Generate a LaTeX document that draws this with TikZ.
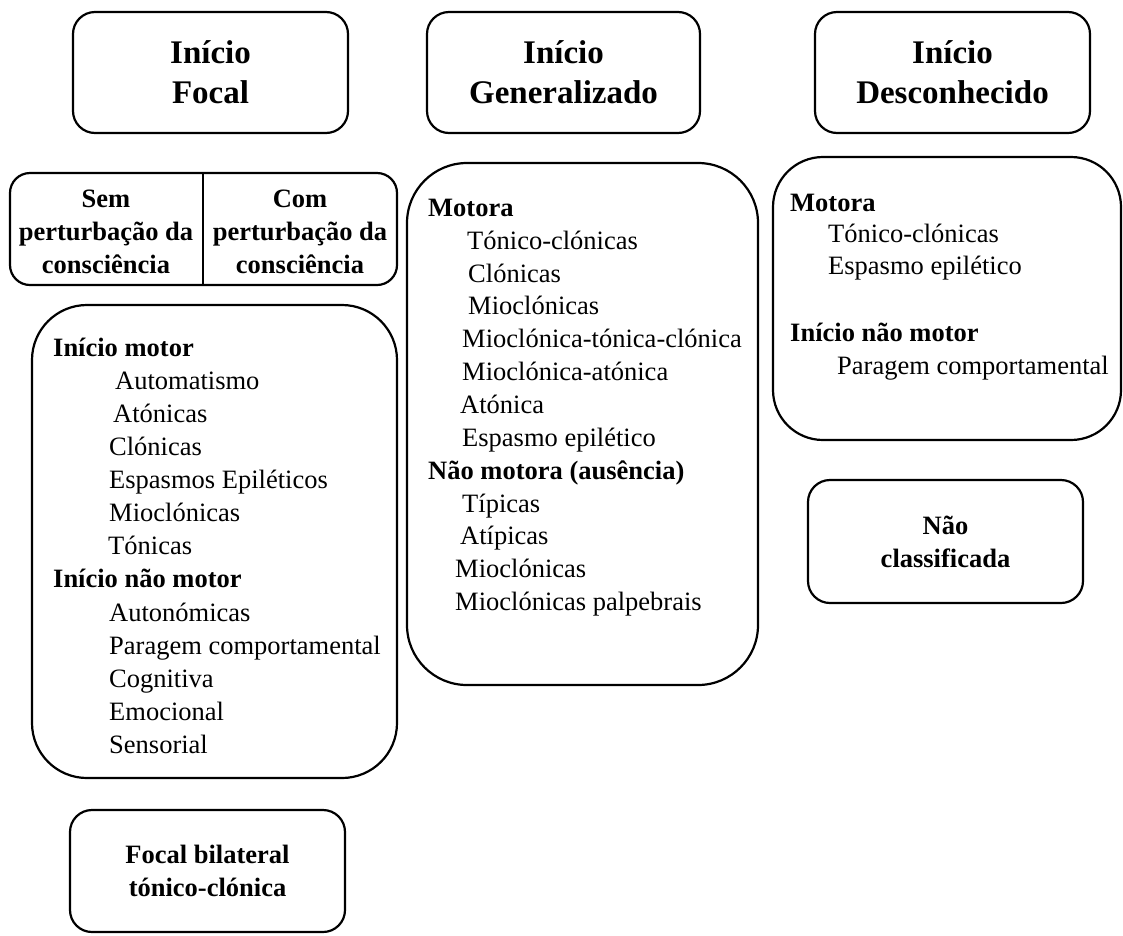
\documentclass[tikz,border=0pt]{standalone}
\usepackage{fontspec}
\setmainfont{Liberation Serif}
\begin{document}
\begin{tikzpicture}[x=1pt,y=-1pt,
  box/.style={draw, line width=2.2pt, rounded corners=22pt, inner sep=0pt},
  ttl/.style={font=\fontsize{33}{40}\selectfont\bfseries, align=center},
  bc/.style={font=\fontsize{26.5}{33}\selectfont\bfseries, align=center, inner sep=0pt},
  hd/.style={font=\fontsize{26.5}{33}\selectfont\bfseries, anchor=west, inner sep=0pt, text height=18pt, text depth=6pt},
  it/.style={font=\fontsize{26.5}{33}\selectfont, anchor=west, inner sep=0pt, text height=18pt, text depth=6pt}]
\useasboundingbox (0,0) rectangle (1123,935);

% title boxes
\node[box, minimum width=275pt, minimum height=121pt, ttl] (tf) at (210.5,72.5) {Início\\Focal};
\node[box, minimum width=273pt, minimum height=121pt, ttl] (tg) at (563.5,72.5) {Início\\Generalizado};
\node[box, minimum width=275pt, minimum height=121pt, ttl] (td) at (952.5,72.5) {Início\\Desconhecido};

% Sem / Com box
\node[box, rounded corners=20pt, minimum width=387pt, minimum height=112pt] (sc) at (203.5,229) {};
\coordinate (dtop) at (203,173);
\coordinate (dbot) at (203,285);
\draw[line width=1.6pt] (dtop) -- (dbot);
\node[bc] (sem) at (106,232) {\fontsize{26.5}{32}\selectfont Sem\\perturbação da\\consciência};
\node[bc] (com) at (300,232) {\fontsize{26.5}{32}\selectfont Com\\perturbação da\\consciência};

% Focal list box
\node[box, rounded corners=55pt, minimum width=365pt, minimum height=473pt] (fl) at (214.5,541.5) {};
\node[hd] (f1) at (53,350) {Início motor};
\node[it] (f2) at (115,383) {Automatismo};
\node[it] (f3) at (113,416) {Atónicas};
\node[it] (f4) at (109,449) {Clónicas};
\node[it] (f5) at (109,482.5) {Espasmos Epiléticos};
\node[it] (f6) at (109,515.5) {Mioclónicas};
\node[it] (f7) at (108,548.5) {Tónicas};
\node[hd] (f8) at (53,581.5) {Início não motor};
\node[it] (f9) at (109,615) {Autonómicas};
\node[it] (f10) at (109,648) {Paragem comportamental};
\node[it] (f11) at (109,681) {Cognitiva};
\node[it] (f12) at (109,714) {Emocional};
\node[it] (f13) at (109,747) {Sensorial};

% Generalizado list box
\node[box, rounded corners=60pt, minimum width=351pt, minimum height=522pt] (gl) at (582.5,424) {};
\node[hd] (g1) at (428,210) {Motora};
\node[it] (g2) at (467,243) {Tónico-clónicas};
\node[it] (g3) at (468,276) {Clónicas};
\node[it] (g4) at (468,308.5) {Mioclónicas};
\node[it] (g5) at (462,341.5) {Mioclónica-tónica-clónica};
\node[it] (g6) at (462,374.5) {Mioclónica-atónica};
\node[it] (g7) at (460,407) {Atónica};
\node[it] (g8) at (462,440) {Espasmo epilético};
\node[hd] (g9) at (428,473) {Não motora (ausência)};
\node[it] (g10) at (462,506) {Típicas};
\node[it] (g11) at (460,538.5) {Atípicas};
\node[it] (g12) at (455,571.5) {Mioclónicas};
\node[it] (g13) at (455,604.5) {Mioclónicas palpebrais};

% Desconhecido list box
\node[box, rounded corners=50pt, minimum width=348pt, minimum height=283pt] (dl) at (947,298.5) {};
\node[hd] (d1) at (790,205) {Motora};
\node[it] (d2) at (828,236.5) {Tónico-clónicas};
\node[it] (d3) at (828,268) {Espasmo epilético};
\node[hd] (d4) at (790,335) {Início não motor};
\node[it] (d5) at (837,368) {Paragem comportamental};

% Não classificada
\node[box, minimum width=275pt, minimum height=123pt, bc] (nc) at (945.5,541.5) {\fontsize{26.5}{35}\selectfont Não\\classificada};

% Focal bilateral
\node[box, minimum width=275pt, minimum height=122pt, bc] (fb) at (207.5,871) {\fontsize{26.5}{35}\selectfont Focal bilateral\\tónico-clónica};
\end{tikzpicture}
\end{document}
